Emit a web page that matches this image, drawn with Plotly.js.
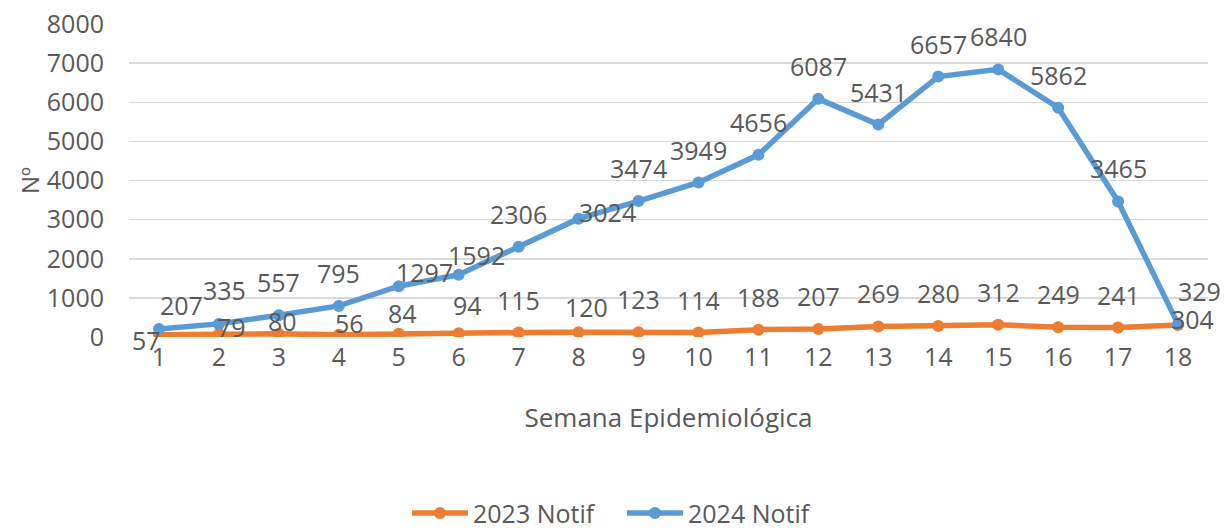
<!DOCTYPE html>
<html>
<head>
<meta charset="utf-8">
<script src="https://cdn.plot.ly/plotly-3.0.1.min.js"></script>
<style>html,body{margin:0;padding:0;background:#fff}#chart{width:1229px;height:529px}</style>
</head>
<body>
<div id="chart"></div>
<script>
const weeks = [1,2,3,4,5,6,7,8,9,10,11,12,13,14,15,16,17,18];
const notif2023 = [57,79,80,56,84,94,115,120,123,114,188,207,269,280,312,249,241,304];
const notif2024 = [207,335,557,795,1297,1592,2306,3024,3474,3949,4656,6087,5431,6657,6840,5862,3465,329];
const seriesNames = ['2023 Notif','2024 Notif'];
const yTicks = [0,1000,2000,3000,4000,5000,6000,7000,8000];

// label offsets (pixels) from each point: [dx, dy] with dy upward
const off2023 = [[-12,-5],[13,7],[4,13],[11,12],[4,21],[9,28],[0,33],[8,25],[0,33],[0,33],[0,33],[0,33],[0,33],[0,33],[0,33],[0,33],[0,33],[14,6]];
const off2024 = [[23,24],[6,34],[0,33],[0,33],[26,14],[18,20],[0,33],[29,7],[0,33],[0,33],[0,33],[0,33],[0,33],[0,33],[0,33],[0,33],[0,33],[21,33]];

const FONT = '"Open Sans", "Noto Sans", sans-serif';
const TXT = '#595959';
const COLORS = ['#ED7D31', '#5B9BD5'];
const FS = 25;

const traces = [notif2023, notif2024].map((vals, k) => ({
  x: weeks, y: vals, name: seriesNames[k], type: 'scatter', mode: 'lines+markers',
  line: {color: COLORS[k], width: 5.5}, marker: {color: COLORS[k], size: 12},
  showlegend: false
}));

const annotations = [];
function addLabels(vals, offs) {
  vals.forEach((v, i) => {
    annotations.push({x: weeks[i], y: v, text: String(v), showarrow: false,
      xshift: offs[i][0], yshift: offs[i][1], xanchor: 'center', yanchor: 'middle', borderpad: 0,
      font: {family: FONT, size: FS, color: TXT}});
  });
}
addLabels(notif2023, off2023);
addLabels(notif2024, off2024);

// custom legend (paper coordinates)
const shapes = [];
const legY = -0.562;
const legItems = [{x0: 0.2623, x1: 0.3142, tx: 0.3179}, {x0: 0.4615, x1: 0.5134, tx: 0.5171}];
legItems.forEach((it, k) => {
  shapes.push({type: 'line', xref: 'paper', yref: 'paper', x0: it.x0, x1: it.x1, y0: legY, y1: legY,
    line: {color: COLORS[k], width: 5.5}});
  const cx = (it.x0 + it.x1) / 2;
  shapes.push({type: 'circle', xref: 'paper', yref: 'paper', x0: cx - 6/1079, x1: cx + 6/1079,
    y0: legY - 6/313, y1: legY + 6/313, fillcolor: COLORS[k], line: {color: COLORS[k], width: 0}});
  annotations.push({xref: 'paper', yref: 'paper', x: it.tx, y: legY, text: seriesNames[k],
    showarrow: false, xanchor: 'left', yanchor: 'middle', borderpad: 0,
    font: {family: FONT, size: 25, color: TXT}});
});

const layout = {
  width: 1229, height: 529,
  margin: {l: 129, r: 21, t: 24, b: 192},
  paper_bgcolor: '#fff', plot_bgcolor: '#fff',
  font: {family: FONT, color: TXT, size: FS},
  showlegend: false,
  xaxis: {
    range: [0.5, 18.5], tickmode: 'array', tickvals: weeks, ticktext: weeks.map(String),
    showgrid: false, zeroline: false, showline: false, ticks: '', fixedrange: true,
    ticklabelstandoff: 3,
    tickfont: {family: FONT, size: FS, color: TXT},
    title: {text: 'Semana Epidemiológica', font: {family: FONT, size: 26, color: TXT}, standoff: 36}
  },
  yaxis: {
    range: [0, 8000], tickmode: 'array', tickvals: yTicks, ticktext: yTicks.map(String),
    showgrid: true, gridcolor: '#D9D9D9', gridwidth: 1.5, zeroline: false, showline: false,
    ticks: '', ticklabelstandoff: 24, fixedrange: true,
    tickfont: {family: FONT, size: FS, color: TXT},
    title: {text: 'Nº', font: {family: FONT, size: 24, color: TXT}, standoff: 0}
  },
  shapes: shapes,
  annotations: annotations
};

Plotly.newPlot('chart', traces, layout, {displayModeBar: false, staticPlot: true});
</script>
</body>
</html>
